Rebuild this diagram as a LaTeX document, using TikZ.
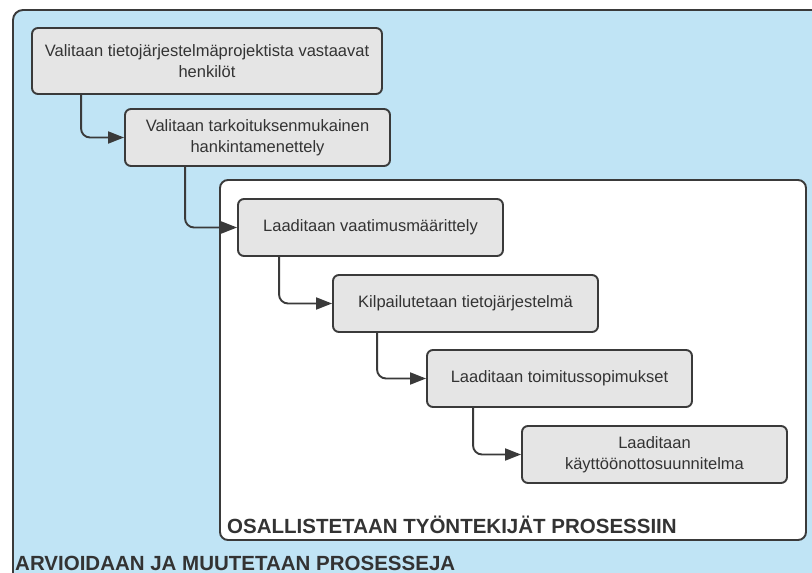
\documentclass[tikz,border=0pt]{standalone}
\usepackage{fontspec}
\setmainfont{Liberation Sans}
\usetikzlibrary{arrows.meta}

\definecolor{paleblue}{RGB}{192,228,245}
\definecolor{boxgray}{RGB}{229,229,229}
\definecolor{edge}{RGB}{58,58,58}
\definecolor{ink}{RGB}{51,51,51}

\tikzset{
  stepbox/.style={draw=edge, fill=boxgray, line width=1.9pt, rounded corners=6pt,
    inner sep=0pt, align=center, text=ink,
    font=\fontsize{16.5}{21}\selectfont},
  flow/.style={draw=edge, line width=1.9pt, rounded corners=9pt,
    -{Triangle[length=16pt,width=12pt]}},
  frame/.style={draw=edge, line width=1.9pt, rounded corners=10pt},
  caption/.style={font=\bfseries\fontsize{20.5}{24}\selectfont, text=ink, inner sep=0pt}
}

\begin{document}
\begin{tikzpicture}[x=1pt,y=-1pt]
  \useasboundingbox (0,0) rectangle (812,573);
  \clip (0,0) rectangle (812,573);
  \fill[white] (0,0) rectangle (812,573);

  % outer process area
  \draw[frame, fill=paleblue] (13,10) rectangle (840,620);
  % inner participation area
  \draw[frame, fill=white, rounded corners=8pt] (220,180) rectangle (806,540);

  % process steps
  \node[stepbox, minimum width=350pt, minimum height=66pt] (b1) at (207,61)
    {Valitaan tietojärjestelmäprojektista vastaavat\\henkilöt};
  \node[stepbox, minimum width=265pt, minimum height=57pt] (b2) at (257.5,137.5)
    {Valitaan tarkoituksenmukainen\\hankintamenettely};
  \node[stepbox, minimum width=265pt, minimum height=57pt] (b3) at (370.5,227.5)
    {Laaditaan vaatimusmäärittely};
  \node[stepbox, minimum width=265pt, minimum height=57pt] (b4) at (465.5,303.5)
    {Kilpailutetaan tietojärjestelmä};
  \node[stepbox, minimum width=265pt, minimum height=57pt] (b5) at (559.5,378.5)
    {Laaditaan toimitussopimukset};
  \node[stepbox, minimum width=265pt, minimum height=57pt] (b6) at (654.5,454.5)
    {Laaditaan\\käyttöönottosuunnitelma};

  % connectors
  \draw[flow] ([xshift=50pt]b1.south west) |- (b2.west);
  \draw[flow] ([xshift=61pt]b2.south west) |- (b3.west);
  \draw[flow] ([xshift=42pt]b3.south west) |- (b4.west);
  \draw[flow] ([xshift=45pt]b4.south west) |- (b5.west);
  \draw[flow] ([xshift=47pt]b5.south west) |- (b6.west);

  % area captions
  \node[caption, anchor=base west] (inner) at (227,533) {OSALLISTETAAN TYÖNTEKIJÄT PROSESSIIN};
  \node[caption, anchor=base west] (outer) at (15,570) {ARVIOIDAAN JA MUUTETAAN PROSESSEJA};
\end{tikzpicture}
\end{document}
